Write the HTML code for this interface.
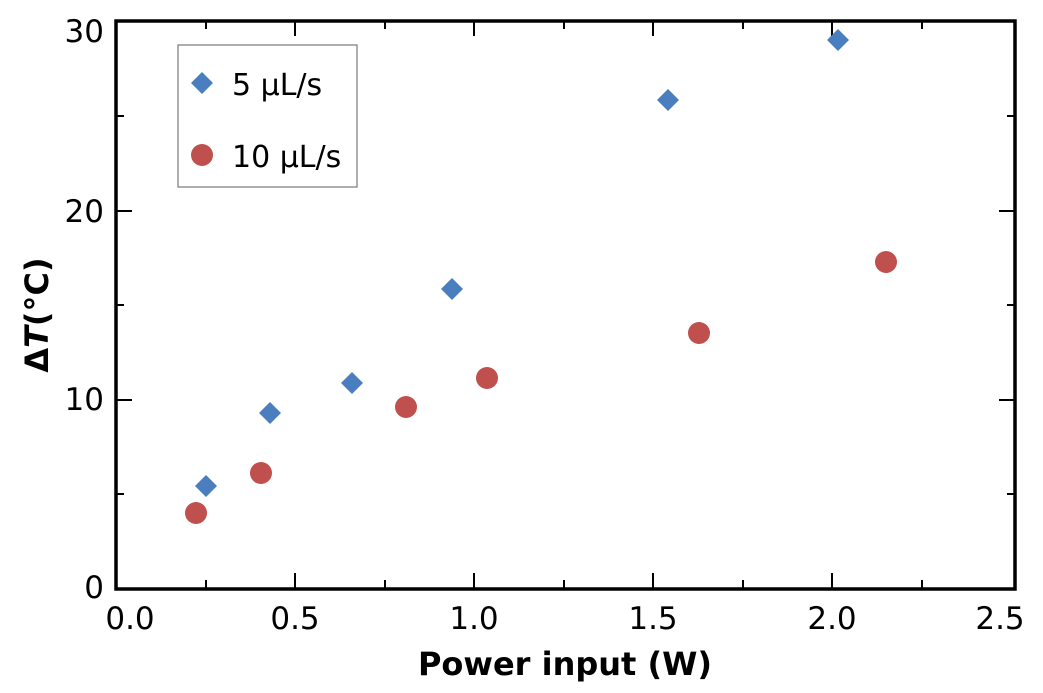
<!DOCTYPE html>
<html><head><meta charset="utf-8"><style>body{margin:0;background:#fff}svg{display:block}</style></head><body>
<svg width="1043" height="693" viewBox="0 0 1043 693" xmlns="http://www.w3.org/2000/svg" font-family="DejaVu Sans, Liberation Sans, sans-serif">
<g stroke="#000" stroke-width="2">
<line x1="295" y1="589" x2="295" y2="573"/><line x1="474" y1="589" x2="474" y2="573"/><line x1="653" y1="589" x2="653" y2="573"/><line x1="832" y1="589" x2="832" y2="573"/>
<line x1="206" y1="589" x2="206" y2="580"/><line x1="385" y1="589" x2="385" y2="580"/><line x1="564" y1="589" x2="564" y2="580"/><line x1="743" y1="589" x2="743" y2="580"/><line x1="922" y1="589" x2="922" y2="580"/>
<line x1="295" y1="21" x2="295" y2="36"/><line x1="474" y1="21" x2="474" y2="36"/><line x1="653" y1="21" x2="653" y2="36"/><line x1="832" y1="21" x2="832" y2="36"/>
<line x1="206" y1="21" x2="206" y2="29"/><line x1="385" y1="21" x2="385" y2="29"/><line x1="564" y1="21" x2="564" y2="29"/><line x1="743" y1="21" x2="743" y2="29"/><line x1="922" y1="21" x2="922" y2="29"/>
<line x1="116" y1="400" x2="132" y2="400"/><line x1="116" y1="211" x2="132" y2="211"/>
<line x1="116" y1="494" x2="124" y2="494"/><line x1="116" y1="305" x2="124" y2="305"/><line x1="116" y1="116" x2="124" y2="116"/>
<line x1="1015" y1="400" x2="999" y2="400"/><line x1="1015" y1="211" x2="999" y2="211"/>
<line x1="1015" y1="494" x2="1007" y2="494"/><line x1="1015" y1="305" x2="1007" y2="305"/><line x1="1015" y1="116" x2="1007" y2="116"/>
</g>
<rect x="116" y="21" width="899" height="568" fill="none" stroke="#000" stroke-width="3.5"/>
<g font-size="31" fill="#000" text-anchor="middle">
<text x="130" y="629">0.0</text><text x="295" y="629">0.5</text><text x="474" y="629">1.0</text><text x="653" y="629">1.5</text><text x="832" y="629">2.0</text><text x="1000" y="629">2.5</text>
</g>
<g font-size="31" fill="#000" text-anchor="end">
<text x="104" y="598">0</text><text x="104" y="410">10</text><text x="104" y="222">20</text><text x="104" y="42">30</text>
</g>
<text x="565" y="675" font-size="32" font-weight="bold" text-anchor="middle">Power input (W)</text>
<text transform="translate(48,315) rotate(-90)" font-size="32" font-weight="bold" text-anchor="middle">Δ<tspan font-style="italic">T</tspan>(°C)</text>
<rect x="178" y="45" width="179" height="142" fill="#fff" stroke="#777" stroke-width="1.2"/>
<g fill="#4a7ebf">
<path d="M202 72 L213 83 L202 94 L191 83Z"/>
<path d="M206 475 L217 486 L206 497 L195 486Z"/>
<path d="M270 402 L281 413 L270 424 L259 413Z"/>
<path d="M352 372 L363 383 L352 394 L341 383Z"/>
<path d="M452 278 L463 289 L452 300 L441 289Z"/>
<path d="M668 89 L679 100 L668 111 L657 100Z"/>
<path d="M838 29 L849 40 L838 51 L827 40Z"/>
</g>
<g fill="#c0504d">
<circle cx="202" cy="155" r="11"/>
<circle cx="196" cy="513" r="11"/><circle cx="261" cy="473" r="11"/><circle cx="406" cy="407" r="11"/><circle cx="487" cy="378" r="11"/><circle cx="699" cy="333" r="11"/><circle cx="886" cy="262" r="11"/>
</g>
<g font-size="30" fill="#000"><text x="232" y="95">5 μL/s</text><text x="232" y="167">10 μL/s</text></g>
</svg>
</body></html>
